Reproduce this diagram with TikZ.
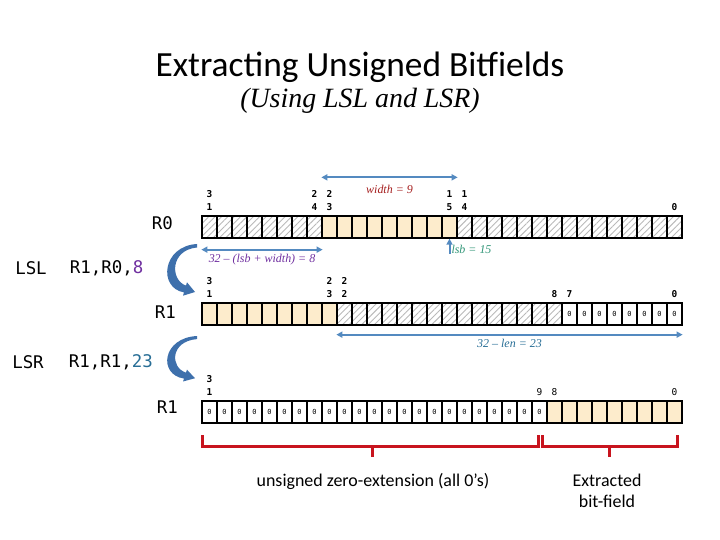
\documentclass[tikz,border=0pt]{standalone}
\usepackage{fontspec}
\setmainfont{Carlito}
\setmonofont{DejaVu Sans Mono}
\newfontfamily\serifit{Liberation Serif}
\usepackage{xcolor}
\definecolor{fieldbg}{RGB}{253,236,204}
\definecolor{dimblue}{RGB}{84,138,192}
\definecolor{curvblue}{RGB}{62,112,172}
\definecolor{widthred}{RGB}{165,30,30}
\definecolor{shiftpur}{RGB}{112,48,160}
\definecolor{lsbgrn}{RGB}{50,150,120}
\definecolor{lenblue}{RGB}{40,110,150}
\definecolor{bracered}{RGB}{200,20,30}
\usetikzlibrary{arrows.meta, positioning, patterns.meta, calc}
\tikzset{
  cell/.style={
    rectangle, draw=black, line width=1.3bp,
    minimum width=15bp, minimum height=22bp, inner sep=0pt,
    font=\ttfamily\fontsize{7}{7}\selectfont},
  hatch/.style={cell,
    pattern={Lines[angle=45,distance=4.5bp,line width=0.9bp]},
    pattern color=gray!55},
  field/.style={cell, fill=fieldbg},
  zero/.style={cell, fill=white},
  bitno/.style={anchor=south, align=center, inner sep=0pt,
    font=\ttfamily\bfseries\fontsize{9.5}{12.5}\selectfont},
  bitlight/.style={bitno, font=\ttfamily\fontsize{9.5}{12.5}\selectfont},
  regname/.style={font=\ttfamily\fontsize{17.5}{20}\selectfont},
  dim/.style={{Triangle[width=6bp,length=6bp]}-{Triangle[width=6bp,length=6bp]},
    line width=2bp, dimblue},
  lsbarr/.style={-{Triangle[width=6bp,length=6bp]}, line width=2bp, dimblue},
  dimlabel/.style={font=\serifit\itshape\fontsize{12}{13}\selectfont},
  brace/.style={line width=3bp, bracered},
  bendarrow/.pic={
    \fill[curvblue] (2,0) .. controls (-33,2) and (-37,44) .. (-11,48.4)
      -- (-12,51.7) -- (0,48) -- (-8,38.3) -- (-9,41.6)
      .. controls (-25,36) and (-25,6) .. (2,3.5) -- cycle;
  },
}
\begin{document}
\begin{tikzpicture}[x=1bp, y=-1bp]
  \useasboundingbox (0,0) rectangle (720,540);
  % title
  \node[font=\fontsize{35.5}{40}\selectfont] (title) at (360,67)
    {Extracting Unsigned Bitfields};
  \node[font=\serifit\itshape\fontsize{28}{32}\selectfont] (subtitle) at (360,101)
    {(Using LSL and LSR)};

  % R0
  \foreach \lo/\hi/\kind in {0/14/hatch, 15/23/field, 24/31/hatch}
    \foreach \b in {\lo,...,\hi}
      \node[\kind] (r0-\b) at ({674.5-15*\b},227) {};
  \foreach \b/\txt in {31/3\\1, 24/2\\4, 23/2\\3, 15/1\\5, 14/1\\4, 0/0}
    \node[bitno] (b0-\b) at ([yshift=5bp]r0-\b.north) {\txt};

  % R1 after LSL
  \foreach \lo/\hi/\kind in {8/22/hatch, 23/31/field}
    \foreach \b in {\lo,...,\hi}
      \node[\kind] (r1a-\b) at ({674.5-15*\b},314) {};
  \foreach \b in {0,...,7}
    \node[zero] (r1a-\b) at ({674.5-15*\b},314) {0};
  \foreach \b/\txt in {31/3\\1, 23/2\\3, 22/2\\2, 8/8, 7/7, 0/0}
    \node[bitno] (b1a-\b) at ([yshift=5bp]r1a-\b.north) {\txt};

  % R1 after LSR
  \foreach \b in {0,...,8}
    \node[field] (r1b-\b) at ({674.5-15*\b},412) {};
  \foreach \b in {9,...,31}
    \node[zero] (r1b-\b) at ({674.5-15*\b},412) {0};
  \node[bitno] (b1b-31) at ([yshift=5bp]r1b-31.north) {3\\1};
  \foreach \b in {9,8,0}
    \node[bitlight] (b1b-\b) at ([yshift=5bp]r1b-\b.north) {\b};

  % register names and instructions
  \node[regname, left=25bp of r0-31, yshift=4bp] (nr0) {R0};
  \node[regname, left=22bp of r1a-31, yshift=2bp] (nr1a) {R1};
  \node[regname, left=20bp of r1b-31, yshift=5bp] (nr1b) {R1};
  \node[regname] (lsl) at (31,268) {LSL};
  \node[regname, right=16bp of lsl] (lslargs) {R1,R0,\textcolor{shiftpur}{8}};
  \node[regname] (lsr) at (28,362) {LSR};
  \node[regname, right=18bp of lsr] (lsrargs) {R1,R1,\textcolor{lenblue}{23}};

  % curved shift arrows
  \pic at (195,244) {bendarrow};
  \pic[yscale=0.88] at (195,336) {bendarrow};

  % dimension arrows
  \draw[dim] ([yshift=38bp]r0-23.north west) -- ([yshift=38bp]r0-15.north east)
    node[midway, below=4bp, dimlabel, text=widthred] {width = 9};
  \draw[dim] ([yshift=-11bp]r0-31.south west) -- ([yshift=-11bp]r0-24.south east)
    node[midway, below=0.5bp, dimlabel, text=shiftpur] {32 – (lsb + width) = 8};
  \draw[lsbarr] ([yshift=-15bp]r0-15.south) -- (r0-15.south)
    node[pos=0, anchor=base west, inner sep=1bp, dimlabel, text=lsbgrn] {lsb = 15};
  \draw[dim] ([yshift=-9bp]r1a-22.south west) -- ([yshift=-9bp]r1a-0.south east)
    node[midway, below=0.5bp, dimlabel, text=lenblue] {32 – len = 23};

  % result brackets
  \draw[brace] (202,435) |- (538,446) -- (538,435);
  \draw[brace] (372,446) -- (372,457);
  \draw[brace] (542,435) |- (677,446) -- (677,435);
  \draw[brace] (609,446) -- (609,457);
  \node[font=\fontsize{18}{21}\selectfont] (zext) at (373,481)
    {unsigned zero-extension (all 0’s)};
  \node[align=center, font=\fontsize{18}{21}\selectfont] (extr) at (607,491)
    {Extracted\\bit-field};
\end{tikzpicture}
\end{document}
